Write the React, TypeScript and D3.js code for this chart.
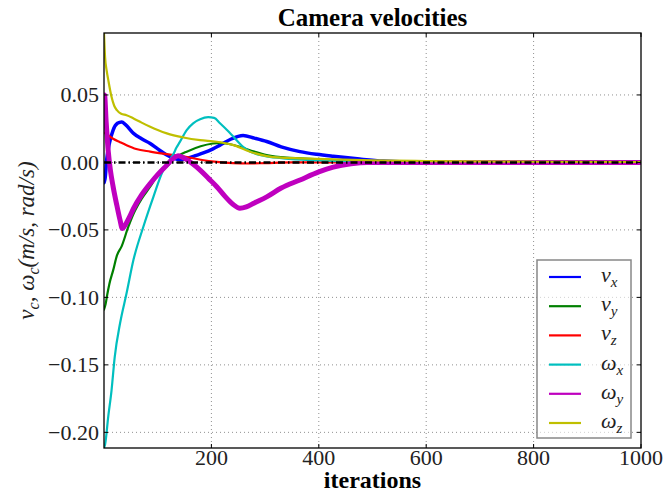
import React from 'react';
import * as d3 from 'd3';

const W = 668;
const H = 497;
const plot = { left: 104, right: 641, top: 33, bottom: 448 };

const xTicks = [200, 400, 600, 800, 1000];
const yTicks = [-0.2, -0.15, -0.1, -0.05, 0, 0.05];
const yTickLabels = ['\u22120.20', '\u22120.15', '\u22120.10', '\u22120.05', '0.00', '0.05'];

// [iteration, value]
const vx: [number, number][] = [
  [0, -0.015], [2, -0.012], [5, 0.002], [10, 0.014], [17, 0.024], [25, 0.029], [33, 0.030],
  [40, 0.028], [55, 0.0215], [70, 0.0175], [86, 0.014], [100, 0.010], [117, 0.0055],
  [130, 0.003], [141, 0.002], [155, 0.003], [170, 0.005], [185, 0.007], [203, 0.010],
  [216, 0.0128], [235, 0.017], [259, 0.020], [280, 0.018], [303, 0.0155], [330, 0.0115],
  [365, 0.008], [396, 0.006], [427, 0.0045], [476, 0.0025], [520, 0.001], [600, 0], [1000, 0],
];
const vy: [number, number][] = [
  [0, -0.109], [3, -0.105], [6, -0.098], [10, -0.090], [17, -0.080], [24, -0.069], [33, -0.062],
  [45, -0.048], [55, -0.038], [70, -0.027], [86, -0.018], [104, -0.007], [117, -0.003],
  [129, 0.002], [141, 0.0055], [154, 0.008], [180, 0.012], [203, 0.014], [216, 0.0145],
  [235, 0.0135], [253, 0.0115], [280, 0.008], [303, 0.0055], [340, 0.0035], [365, 0.003],
  [420, 0.002], [480, 0.001], [540, 0], [1000, 0],
];
const vz: [number, number][] = [
  [0, 0.022], [5, 0.021], [17, 0.0175], [30, 0.015], [42, 0.0128], [60, 0.010], [86, 0.008],
  [110, 0.0065], [148, 0.0045], [180, 0.002], [210, 0.0004], [240, -0.0005], [270, -0.0008],
  [300, -0.0005], [350, 0], [1000, 0],
];
const wx: [number, number][] = [
  [0, -0.2116], [2, -0.209], [8, -0.188], [14, -0.169], [20, -0.144], [30, -0.119], [42, -0.097],
  [55, -0.072], [73, -0.048], [92, -0.0255], [110, -0.006], [119, 0], [129, 0.006], [135, 0.011],
  [141, 0.015], [154, 0.024], [166, 0.029], [179, 0.032], [194, 0.0335], [205, 0.033],
  [216, 0.029], [229, 0.024], [241, 0.019], [259, 0.0115], [272, 0.008], [290, 0.0055],
  [303, 0.0045], [334, 0.003], [400, 0.0015], [480, 0.0005], [550, 0], [1000, 0],
];
const wy: [number, number][] = [
  [0, 0.045], [1, 0.05], [4, 0.03], [8, 0.008], [12, -0.006], [17, -0.018], [24, -0.032],
  [30, -0.043], [34, -0.049], [40, -0.046], [48, -0.040], [55, -0.034], [70, -0.024],
  [86, -0.0156], [100, -0.009], [117, -0.002], [129, 0.003], [138, 0.005], [150, 0.003],
  [165, -0.001], [179, -0.0057], [195, -0.012], [210, -0.018], [225, -0.025], [240, -0.031],
  [253, -0.034], [265, -0.033], [280, -0.030], [303, -0.0255], [330, -0.019], [365, -0.013],
  [400, -0.007], [427, -0.0035], [460, -0.001], [490, 0], [1000, 0],
];
const wz: [number, number][] = [
  [0, 0.0959], [2, 0.078], [5, 0.068], [8, 0.061], [14, 0.0486], [19, 0.042], [24, 0.0387],
  [32, 0.036], [42, 0.035], [55, 0.0326], [70, 0.0295], [86, 0.0264], [100, 0.024],
  [117, 0.0215], [148, 0.0185], [179, 0.0165], [210, 0.0153], [241, 0.0128], [272, 0.0079],
  [303, 0.0047], [330, 0.0035], [365, 0.003], [427, 0.0022], [500, 0.0015], [600, 0.001],
  [800, 0.0005], [1000, 0.0003],
];

const series = [
  { sym: 'v', sub: 'x', color: '#0000ff', width: 3.5, data: vx },
  { sym: 'v', sub: 'y', color: '#008000', width: 2.2, data: vy },
  { sym: 'v', sub: 'z', color: '#ff0000', width: 2.2, data: vz },
  { sym: '\u03c9', sub: 'x', color: '#00bfbf', width: 2.2, data: wx },
  { sym: '\u03c9', sub: 'y', color: '#bf00bf', width: 5, data: wy },
  { sym: '\u03c9', sub: 'z', color: '#bfbf00', width: 2.2, data: wz },
];

const serif = '"Liberation Serif", "DejaVu Serif", serif';

export default function App() {
  const x = d3.scaleLinear().domain([0, 1000]).range([plot.left, plot.right]);
  const y = d3.scaleLinear().domain([-0.2116, 0.0959]).range([plot.bottom, plot.top]);
  const line = d3
    .line<[number, number]>()
    .x((d) => x(d[0]))
    .y((d) => y(d[1]))
    .curve(d3.curveMonotoneX);

  const legend = { x: 537, y: 260, w: 94, h: 178, row: 29.2 };

  return (
    <svg
      width={W}
      height={H}
      style={{ position: 'absolute', left: 0, top: 0, background: '#fff' }}
      fontFamily={serif}
    >
      <defs>
        <clipPath id="plotClip">
          <rect x={plot.left} y={plot.top} width={plot.right - plot.left} height={plot.bottom - plot.top} />
        </clipPath>
      </defs>

      {/* grid */}
      <g stroke="#444" strokeWidth={0.6} strokeDasharray="1,3">
        {xTicks.filter((t) => t < 1000).map((t) => (
          <line key={'gx' + t} x1={x(t)} x2={x(t)} y1={plot.top} y2={plot.bottom} />
        ))}
        {yTicks.map((t) => (
          <line key={'gy' + t} x1={plot.left} x2={plot.right} y1={y(t)} y2={y(t)} />
        ))}
      </g>

      {/* curves */}
      <g clipPath="url(#plotClip)" fill="none" strokeLinejoin="round" strokeLinecap="round">
        {series.map((s) => (
          <path key={s.sym + s.sub} d={line(s.data) || ''} stroke={s.color} strokeWidth={s.width} />
        ))}
        <line
          x1={plot.left}
          x2={plot.right}
          y1={y(0)}
          y2={y(0)}
          stroke="#000"
          strokeWidth={2.5}
          strokeLinecap="butt"
          strokeDasharray="7,3,1.5,3"
        />
      </g>

      {/* ticks */}
      <g stroke="#000" strokeWidth={1}>
        {xTicks.map((t) => (
          <g key={'tx' + t}>
            <line x1={x(t)} x2={x(t)} y1={plot.bottom} y2={plot.bottom - 4} />
            <line x1={x(t)} x2={x(t)} y1={plot.top} y2={plot.top + 4} />
          </g>
        ))}
        {yTicks.map((t) => (
          <g key={'ty' + t}>
            <line x1={plot.left} x2={plot.left + 4} y1={y(t)} y2={y(t)} />
            <line x1={plot.right} x2={plot.right - 4} y1={y(t)} y2={y(t)} />
          </g>
        ))}
      </g>

      <rect
        x={plot.left}
        y={plot.top}
        width={plot.right - plot.left}
        height={plot.bottom - plot.top}
        fill="none"
        stroke="#000"
        strokeWidth={1.3}
      />

      {/* tick labels */}
      <g fontSize={22} fill="#222">
        {xTicks.map((t) => (
          <text key={'lx' + t} x={x(t)} y={465} textAnchor="middle">
            {t}
          </text>
        ))}
        {yTicks.map((t, i) => (
          <text key={'ly' + t} x={99} y={y(t) + 7.5} textAnchor="end">
            {yTickLabels[i]}
          </text>
        ))}
      </g>

      {/* legend */}
      <rect
        x={legend.x}
        y={legend.y}
        width={legend.w}
        height={legend.h}
        fill="#fff"
        fillOpacity={0.6}
        stroke="#888"
        strokeWidth={1.5}
      />
      {series.map((s, i) => {
        const ry = legend.y + 17 + i * legend.row;
        return (
          <g key={'lg' + i}>
            <line x1={549} x2={581} y1={ry} y2={ry} stroke={s.color} strokeWidth={2.2} />
            <text x={601} y={ry + 5} fontSize={22} fontStyle="italic" fill="#222">
              {s.sym}
              <tspan fontSize={15} dy={5}>
                {s.sub}
              </tspan>
            </text>
          </g>
        );
      })}

      {/* titles */}
      <text x={(plot.left + plot.right) / 2} y={26} textAnchor="middle" fontSize={25} fontWeight="bold">
        Camera velocities
      </text>
      <text x={(plot.left + plot.right) / 2} y={488} textAnchor="middle" fontSize={24} fontWeight="bold">
        iterations
      </text>
      <text
        transform={`translate(34,${(plot.top + plot.bottom) / 2}) rotate(-90)`}
        textAnchor="middle"
        fontSize={23}
        fontStyle="italic"
        fill="#222"
      >
        v<tspan fontSize={16} dy={5}>c</tspan>
        <tspan dy={-5}>, {'\u03c9'}</tspan>
        <tspan fontSize={16} dy={5}>c</tspan>
        <tspan dy={-5}>(m/s, rad/s)</tspan>
      </text>
    </svg>
  );
}
